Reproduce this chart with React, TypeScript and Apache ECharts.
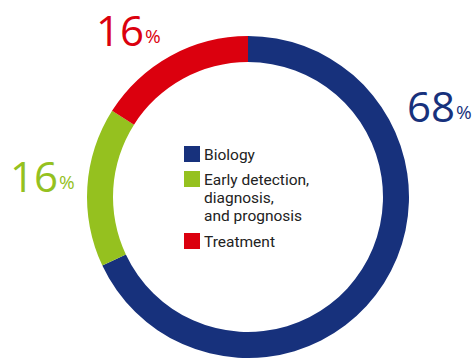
import React, { useEffect, useRef } from "react";
import * as echarts from "echarts";

// Share of research by area (percent)
const categories = ["Biology", "Early detection,\ndiagnosis,\nand prognosis", "Treatment"];
const shares = [68, 16, 16];
const colors = ["#17317c", "#95c11f", "#db000e"];

// Where each percentage label sits
const labelSpots: [number, number][] = [
  [407, 85],
  [10, 155],
  [96, 9],
];

export default function App() {
  const ref = useRef<HTMLDivElement>(null);

  useEffect(() => {
    if (!ref.current) return;
    const chart = echarts.init(ref.current, undefined, { renderer: "svg" });

    const cx = 248;
    const cy = 197;

    const valueLabels = shares.map((v, i) => ({
      type: "text",
      x: labelSpots[i][0],
      y: labelSpots[i][1],
      style: {
        text: `{n|${v}}{p|%}`,
        rich: {
          n: {
            fontFamily: "Open Sans",
            fontWeight: 400,
            fontSize: 42,
            fill: colors[i],
            lineHeight: 40,
          },
          p: {
            fontFamily: "Open Sans",
            fontWeight: 400,
            fontSize: 19,
            fill: colors[i],
            lineHeight: 40,
            padding: [14, 0, 0, 1],
          },
        },
      },
    }));

    // Legend built from squares and wrapped labels, one text per line
    const legendTops = [146, 171, 233];
    const lineStep = 18;
    const legendItems: any[] = [];
    categories.forEach((name, i) => {
      legendItems.push({
        type: "rect",
        shape: { x: 184, y: legendTops[i], width: 16, height: 16 },
        style: { fill: colors[i] },
      });
      name.split("\n").forEach((line, j) => {
        legendItems.push({
          type: "text",
          x: 204,
          y: legendTops[i] + 9 + j * lineStep,
          style: {
            text: line,
            fontFamily: "Roboto",
            fontSize: 15.5,
            verticalAlign: "middle",
            fill: "#222222",
          },
        });
      });
    });

    chart.setOption({
      animation: false,
      series: [
        {
          type: "pie",
          center: [cx, cy],
          radius: [135, 161],
          startAngle: 90,
          clockwise: true,
          silent: true,
          label: { show: false },
          labelLine: { show: false },
          itemStyle: { borderWidth: 0 },
          data: categories.map((name, i) => ({
            name,
            value: shares[i],
            itemStyle: { color: colors[i] },
          })),
        },
      ],
      graphic: [...valueLabels, ...legendItems],
    });

    return () => chart.dispose();
  }, []);

  return (
    <div
      ref={ref}
      style={{ position: "fixed", left: 0, top: 0, width: 473, height: 358, background: "#fff" }}
    />
  );
}
